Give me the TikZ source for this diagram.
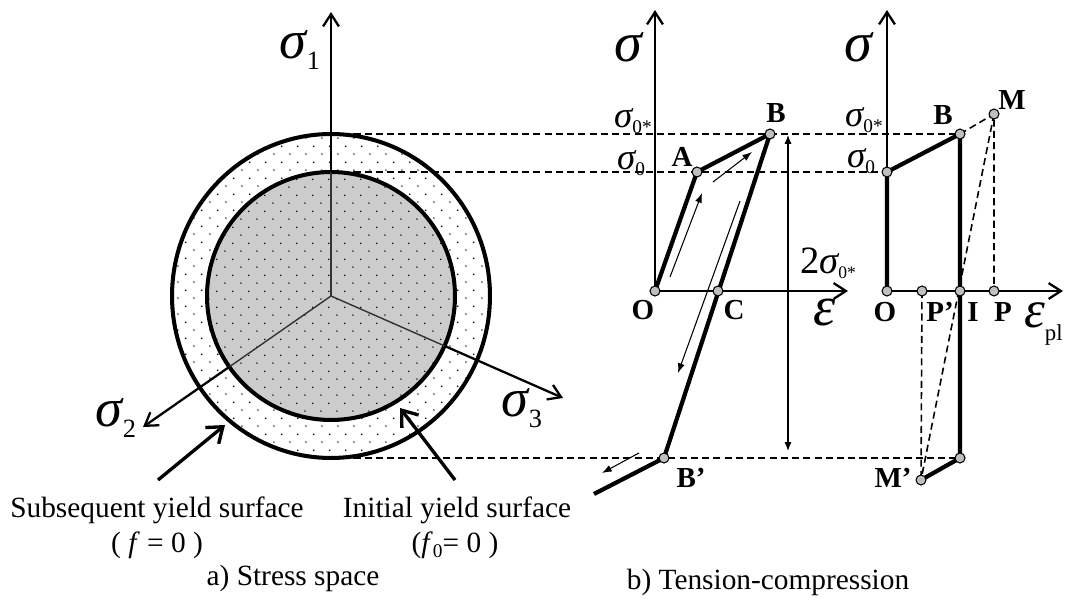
\documentclass[tikz,border=0pt]{standalone}
\usepackage{fontspec}
\setmainfont{Liberation Serif}
\usetikzlibrary{arrows.meta, calc, patterns.meta, positioning}
\tikzset{>=latex}
\tikzset{
  sigaxis/.style={line width=1.3pt, -{Straight Barb[length=7pt, width=9pt]}},
  loadpath/.style={line width=2.4pt, line join=round},
  guide/.style={line width=0.9pt, dash pattern=on 4pt off 2.4pt},
  flow/.style={line width=0.6pt, -{Latex[length=5.5pt, width=4pt]}},
  knot/.style={circle, draw=black, fill=gray!50, line width=0.6pt, inner sep=0pt, minimum size=0.2cm},
  ptlabel/.style={font=\fontsize{16.5}{17}\selectfont\bfseries},
  pointer/.style={line width=1.9pt, -{Straight Barb[length=8pt, width=12pt]}},
  caption/.style={font=\fontsize{16.7}{18}\selectfont},
  rim/.style={line width=2.3pt},
}
\tikzdeclarepattern{
  name=finedots,
  type=uncolored,
  bounding box={(0pt,0pt) and (9pt,9pt)},
  tile size={(9pt,9pt)},
  code={\fill (2.25pt,2.25pt) circle (0.45pt);
        \fill (6.75pt,6.75pt) circle (0.45pt);}
}
% greek letter with a subscript: size, letter, subsize, drop, subscript
\newcommand{\gsub}[5]{{\fontsize{#1}{#1}\selectfont\itshape #2}\raisebox{#4}{\fontsize{#3}{#3}\selectfont #5}}

\begin{document}
\begin{tikzpicture}[x=0.02cm, y=-0.02cm]
  \useasboundingbox (0,0) rectangle (1065,604);
  % a) stress space
  \coordinate (ctr) at (331,296);
  \draw[rim, preaction={fill=white}, pattern=finedots] (ctr) ellipse [x radius=3.18cm, y radius=3.24cm];
  \draw[rim, preaction={fill=gray!40}, pattern=finedots] (ctr) circle [radius=2.48cm];
  \coordinate (s1) at (331,12);
  \coordinate (s2) at (143,427);
  \coordinate (s3) at (563,398);
  \foreach \tip in {s1,s2,s3} {
    \draw[line width=0.8pt, black!80] (ctr) -- ($(ctr)!2.48cm!(\tip)$);
    \draw[sigaxis] ($(ctr)!2.48cm!(\tip)$) -- (\tip);
  }
  \node (sig1) at (300,50) {\gsub{31}{σ}{15}{-6pt}{1}};
  \node (sig2) at (116,418) {\gsub{31}{σ}{15}{-6pt}{2}};
  \node (sig3) at (522,408) {\gsub{31}{σ}{15}{-6pt}{3}};

  \node[caption] (subtxt) at (157,510) {Subsequent yield surface};
  \node[caption] (subeq) at (157,545) {( \textit{f} = 0 )};
  \node[caption] (initxt) at (457,510) {Initial yield surface};
  \node[caption] (inieq) at (455,545) {(\textit{f}\raisebox{-3pt}{\fontsize{11}{11}\selectfont 0}= 0 )};
  \coordinate (subtail) at (158,480);
  \coordinate (subhead) at (225,425);
  \coordinate (initail) at (455,480);
  \coordinate (inihead) at (400,408);
  \draw[pointer] (subtail) -- (subhead);
  \draw[pointer] (initail) -- (inihead);
  \node[caption] (capa) at (293,578) {a) Stress space};
  \node[caption] (capb) at (768,582) {b) Tension-compression};

  % b) tension-compression
  \coordinate (O1) at (655,291);
  \coordinate (A) at (697,172);
  \coordinate (B1) at (770,134);
  \coordinate (C) at (718,291);
  \coordinate (Bb1) at (664,458);
  \coordinate (tail) at (594,494);
  \coordinate (O2) at (887,291);
  \coordinate (S0) at (887,172);
  \coordinate (B2) at (960,134);
  \coordinate (M) at (994,114);
  \coordinate (Pp) at (922,291);
  \coordinate (I) at (960,291);
  \coordinate (P) at (994,291);
  \coordinate (Bb2) at (960,458);
  \coordinate (Mb) at (921,480);
  \coordinate (rimtop) at (331,134);
  \coordinate (coretop) at (331,172);
  \coordinate (rimbot) at (331,458);

  \draw[guide] (rimtop) -- (B2);
  \draw[guide] (coretop) -- (S0);
  \draw[guide] (rimbot) -- (Bb2);
  \draw[guide] (B2) -- (M) -- (P);
  \draw[guide] (M) -- (Mb);
  \draw[guide] (Pp) -- (Mb);

  \draw[sigaxis] (O1) -- (655,10);
  \draw[sigaxis] (O1) -- (848,291);
  \draw[sigaxis] (O2) -- (887,10);
  \draw[sigaxis] (O2) -- (1063,291);

  \draw[loadpath] (O1) -- (A) -- (B1) -- (Bb1) -- (tail);
  \draw[loadpath] (O2) -- (S0) -- (B2) -- (Bb2) -- (Mb);

  \draw[flow] (670,277) -- (702,193);
  \draw[flow] (713,182) -- (752,152);
  \draw[flow] (740,201) -- (678,373);
  \draw[flow] (639,453) -- (602,473);
  \draw[line width=0.7pt, {Latex[length=5pt, width=4pt]}-{Latex[length=5pt, width=4pt]}] (788,135) -- (788,451);
  \node (twosig) at (828,263) {{\fontsize{22}{22}\selectfont 2}\gsub{22}{σ}{10}{-3pt}{0*}};

  \foreach \p in {O1,A,B1,C,Bb1,O2,S0,B2,M,Pp,I,P,Bb2,Mb}
    \node[knot] (k\p) at (\p) {};

  \foreach \txt/\pos [count=\i] in {O/{(643,310)}, C/{(734,310)}, A/{(682,157)}, B/{(776,113)},
      B’/{(691,478)}, O/{(885,312)}, P’/{(940,312)}, I/{(973,312)}, P/{(1003,312)},
      B/{(943,115)}, M/{(1012,100)}, M’/{(893,478)}}
    \node[ptlabel] (lbl\i) at \pos {\txt};

  \node (sigL) at (628,47) {\fontsize{32}{32}\selectfont\itshape σ};
  \node (sigR) at (858,47) {\fontsize{32}{32}\selectfont\itshape σ};
  \node (s0sL) at (633,121) {\gsub{21}{σ}{11}{-3pt}{0*}};
  \node (s0L) at (631,163) {\gsub{21}{σ}{11}{-3pt}{0}};
  \node (s0sR) at (864,120) {\gsub{21}{σ}{11}{-3pt}{0*}};
  \node (s0R) at (861,161) {\gsub{21}{σ}{11}{-3pt}{0}};
  \node (epsL) at (825,313) {\fontsize{32}{32}\selectfont\itshape ε};
  \node[anchor=east, inner sep=0pt] (epsR) at (1063,324) {\gsub{30}{ε}{13}{-7pt}{pl}};
\end{tikzpicture}
\end{document}
